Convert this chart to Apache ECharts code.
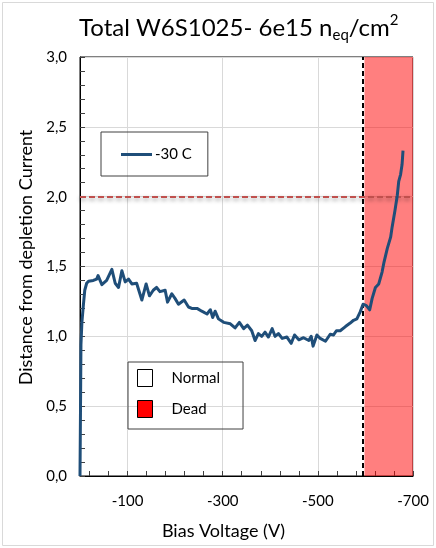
<!DOCTYPE html>
<html>
<head>
<meta charset="utf-8">
<script src="https://cdn.jsdelivr.net/npm/echarts@6/dist/echarts.min.js"></script>
<style>
  html, body { margin: 0; padding: 0; background: #fff; }
  #chart { width: 436px; height: 548px; }
</style>
</head>
<body>
<div id="chart"></div>
<script>
// Bias scan at -30 C: distance from the depletion current vs. bias voltage
const biasVoltage = [0, -1, -2, -4, -7, -10, -14, -18, -28, -35, -38, -46, -56, -67, -74, -81, -88, -95,
  -102, -109, -119, -130, -139, -146, -154, -161, -168, -179, -184, -193, -200, -207, -219, -228, -235,
  -246, -256, -267, -274, -279, -284, -291, -302, -316, -326, -335, -344, -352, -361, -368, -375, -382,
  -389, -396, -404, -410, -417, -425, -435, -444, -451, -460, -470, -481, -486, -490, -498, -505, -516,
  -526, -533, -539, -547, -558, -568, -575, -582, -589, -595, -602, -609, -614, -621, -628, -635, -639,
  -646, -653, -656, -662, -667, -670, -674, -677, -679];
const distance = [0, 0.45, 0.94, 1.10, 1.22, 1.33, 1.38, 1.395, 1.40, 1.41, 1.435, 1.37, 1.40, 1.48, 1.38, 1.35, 1.47, 1.39,
  1.41, 1.375, 1.38, 1.26, 1.375, 1.29, 1.33, 1.35, 1.32, 1.33, 1.245, 1.305, 1.27, 1.23, 1.26, 1.21, 1.20,
  1.20, 1.18, 1.16, 1.19, 1.135, 1.18, 1.125, 1.10, 1.09, 1.06, 1.10, 1.055, 1.08, 1.04, 0.97, 1.02, 1.00,
  1.03, 0.995, 1.055, 1.00, 1.02, 0.985, 0.995, 0.95, 1.01, 0.975, 0.99, 0.97, 1.00, 0.93, 1.01, 0.985, 0.965,
  1.015, 1.01, 1.04, 1.04, 1.07, 1.095, 1.115, 1.125, 1.175, 1.23, 1.22, 1.19, 1.27, 1.35, 1.375, 1.46, 1.53,
  1.63, 1.71, 1.78, 1.90, 2.01, 2.11, 2.16, 2.23, 2.33];

const seriesName = '-30 C';
const stateNames = ['Normal', 'Dead'];
const deadRange = [-598, -700];      // dead region of the bias scan
const breakdownVoltage = -594;       // onset marker
const thresholdLevel = 2.0;          // distance threshold

const xTicks = [-700, -500, -300, -100];
const yRange = [0, 3];

const FONT = 'Lato';

const chart = echarts.init(document.getElementById('chart'), null, { renderer: 'canvas' });

chart.setOption({
  animation: false,
  backgroundColor: '#fff',
  textStyle: { fontFamily: FONT },
  title: {
    text: 'Total W6S1025- 6e15 n{sub|eq}/cm{sup|2}',
    left: 74,
    top: 8,
    textStyle: {
      fontFamily: FONT, fontSize: 24, fontWeight: 'normal', color: '#000', lineHeight: 30,
      rich: {
        sub: { fontFamily: FONT, fontSize: 15, lineHeight: 15, verticalAlign: 'bottom', color: '#000' },
        sup: { fontFamily: FONT, fontSize: 15, lineHeight: 18, verticalAlign: 'top', color: '#000' }
      }
    }
  },
  graphic: [{
    type: 'rect', silent: true, z: -1,
    shape: { x: 2.5, y: 2.5, width: 431, height: 543 },
    style: { fill: 'none', stroke: '#d9d9d9', lineWidth: 1 }
  }],
  grid: {
    left: 80, right: 23, top: 57, bottom: 72,
    show: true, borderColor: '#000', borderWidth: 1, backgroundColor: 'transparent'
  },
  legend: [{
    data: [{ name: seriesName, icon: 'rect' }],
    orient: 'vertical',
    left: 101, top: 132,
    itemWidth: 31, itemHeight: 3,
    padding: [15, 16, 14, 20],
    borderColor: '#404040', borderWidth: 1,
    textStyle: { fontFamily: FONT, fontSize: 15, color: '#000', padding: [0, 0, 0, -2] }
  }, {
    data: [
      { name: stateNames[0], icon: 'rect', itemStyle: { color: '#fff', borderColor: '#000', borderWidth: 1 } },
      { name: stateNames[1], icon: 'rect', itemStyle: { color: '#ff0000', borderColor: '#000', borderWidth: 1 } }
    ],
    orient: 'vertical',
    left: 128, top: 362,
    itemWidth: 15, itemHeight: 17, itemGap: 13,
    padding: [7, 23, 11, 9],
    borderColor: '#404040', borderWidth: 1,
    textStyle: { fontFamily: FONT, fontSize: 15, color: '#000', padding: [0, 0, 0, 14] }
  }],
  xAxis: {
    type: 'value',
    min: xTicks[0], max: 0, interval: 200, inverse: true,
    name: 'Bias Voltage (V)', nameLocation: 'middle', nameGap: 46,
    nameTextStyle: { fontFamily: FONT, fontSize: 18, color: '#000', padding: [0, 46, 0, 0] },
    axisLine: { show: true, lineStyle: { color: '#000', width: 1 } },
    axisTick: { show: true, inside: true, length: 5, lineStyle: { color: '#404040' } },
    minorTick: { show: true, splitNumber: 5, length: 5, lineStyle: { color: '#404040' } },
    axisLabel: {
      fontFamily: FONT, fontSize: 15, color: '#000', margin: 18,
      formatter: v => (xTicks.indexOf(v) >= 0 ? String(v) : '')
    },
    splitLine: { show: true, lineStyle: { color: '#d9d9d9', width: 1 } }
  },
  yAxis: {
    type: 'value',
    min: yRange[0], max: yRange[1], interval: 0.5,
    name: 'Distance from depletion Current', nameLocation: 'middle', nameGap: 44, nameRotate: 90,
    nameTextStyle: { fontFamily: FONT, fontSize: 18, color: '#000', padding: [0, 0, 0, 18] },
    axisLine: { show: true, lineStyle: { color: '#000', width: 1 } },
    axisTick: { show: true, inside: true, length: 5, lineStyle: { color: '#404040' } },
    minorTick: { show: true, splitNumber: 5, length: 5, lineStyle: { color: '#404040' } },
    axisLabel: {
      fontFamily: FONT, fontSize: 15, color: '#000', margin: 13,
      formatter: v => v.toFixed(1).replace('.', ',')
    },
    splitLine: { show: true, lineStyle: { color: '#d9d9d9', width: 1 } }
  },
  series: [{
    name: seriesName,
    type: 'line',
    data: biasVoltage.map((v, i) => [v, distance[i]]),
    showSymbol: false,
    smooth: false,
    z: 3,
    lineStyle: { color: '#1f4e79', width: 3, join: 'round' },
    itemStyle: { color: '#1f4e79' },
    markLine: {
      silent: true, symbol: 'none', z: 2,
      label: { show: false },
      data: [
        [{ coord: [0, thresholdLevel], lineStyle: { color: '#c0504d', width: 2, type: [6, 3],
            shadowColor: 'rgba(0,0,0,0.45)', shadowBlur: 4, shadowOffsetY: 2 } },
         { coord: [xTicks[0], thresholdLevel] }],
        [{ coord: [breakdownVoltage, yRange[0]], lineStyle: { color: '#000', width: 2, type: [5, 3] } },
         { coord: [breakdownVoltage, yRange[1]] }]
      ]
    }
  }, {
    name: stateNames[0],
    type: 'line',
    data: [],
    itemStyle: { color: '#fff' }
  }, {
    name: stateNames[1],
    type: 'line',
    data: [],
    z: 10,
    itemStyle: { color: '#ff0000' },
    markArea: {
      silent: true,
      itemStyle: { color: 'rgba(255,0,0,0.5)' },
      data: [[{ xAxis: deadRange[0], yAxis: yRange[0] }, { xAxis: deadRange[1], yAxis: yRange[1] }]]
    }
  }]
});
</script>
</body>
</html>
